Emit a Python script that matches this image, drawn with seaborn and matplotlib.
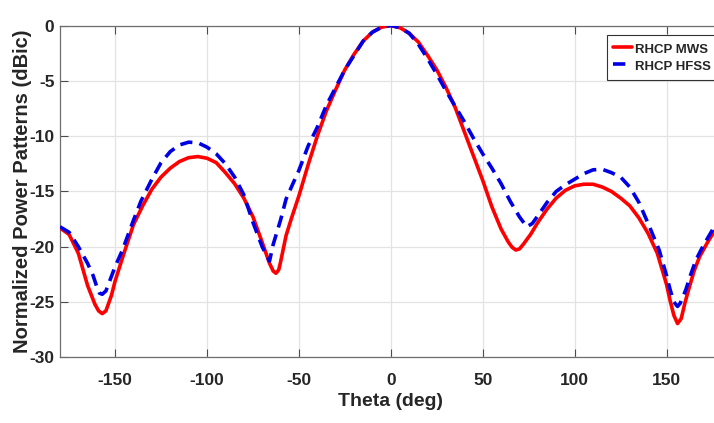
import numpy as np
import pandas as pd
import matplotlib
matplotlib.use('Agg')
import matplotlib.pyplot as plt
import seaborn as sns

# 读图得到的数据 (Theta deg, dB)
theta_mws = [-180, -175, -170, -165, -161, -159, -157, -155, -152, -150, -145, -140, -135, -130,
             -125, -120, -115, -110, -105, -100, -95, -90, -85, -80, -75, -70, -66,
             -64, -62.5, -61, -60, -57, -54, -50, -45, -40, -35, -30, -25, -20, -15, -10, -5, 0,
             5, 10, 15, 20, 25, 30, 35, 40, 45, 50, 55, 60, 64, 66, 68, 70, 72, 76, 80, 85,
             90, 95, 100, 105, 110, 115, 120, 125, 130, 135, 140, 145, 150, 152, 154, 156,
             158, 160, 162, 165, 168, 172, 176]
rhcp_mws = [-18.3, -18.9, -20.6, -23.5, -25.2, -25.8, -26.05, -25.8, -24.4, -23.1, -20.5, -18.0, -16.3, -14.8,
            -13.7, -12.9, -12.3, -11.95, -11.85, -12.0, -12.4, -13.3, -14.3, -15.6, -17.3, -19.6, -21.5,
            -22.2, -22.4, -22.1, -21.4, -19.0, -17.4, -15.4, -12.6, -10.0, -7.7, -5.8, -4.0, -2.6, -1.4, -0.6, -0.15, 0.0,
            -0.2, -0.7, -1.5, -2.7, -4.0, -5.6, -7.4, -9.6, -11.8, -14.0, -16.4, -18.4, -19.6, -20.05, -20.3, -20.2, -19.8,
            -18.9, -17.8, -16.6, -15.6, -14.9, -14.5, -14.35, -14.35, -14.6, -15.0, -15.6, -16.3, -17.4,
            -18.8, -20.6, -23.4, -24.9, -26.2, -26.95, -26.5, -25.1, -23.9, -22.2, -20.9, -19.7, -18.6]

theta_hfss = [-180, -175, -170, -165, -162, -160, -158.5, -157, -155, -150, -146, -140, -136, -130,
              -125, -120, -115, -110, -105, -100, -95, -90, -85, -80, -75, -70, -66, -64,
              -60, -57, -53, -50, -45, -40, -35, -30, -25, -20, -15, -10, -5, 0, 5, 10,
              15, 20, 25, 30, 35, 40, 45, 50, 55, 60, 65, 70, 74, 77, 80, 85, 90, 95,
              100, 105, 110, 115, 120, 125, 130, 135, 140, 146, 150, 152, 154, 156, 157.5, 160.5,
              163, 166, 170, 176]
rhcp_hfss = [-18.2, -18.7, -20.0, -21.5, -22.6, -23.6, -24.2, -24.3, -24.0, -21.8, -20.3, -17.6, -15.9, -13.9,
             -12.4, -11.4, -10.8, -10.55, -10.6, -11.0, -11.6, -12.5, -13.7, -15.3, -17.8, -20.0, -21.3,
             -19.8, -17.6, -15.7, -14.2, -13.1, -10.9, -9.2, -7.2, -5.6, -4.0, -2.7, -1.4, -0.6, -0.15,
             0.0, -0.2, -0.7, -1.7, -3.0, -4.4, -5.9, -7.3, -8.7, -10.2, -11.6, -12.9, -14.3, -15.9,
             -17.3, -18.2, -17.9, -17.2, -16.0, -15.0, -14.4, -13.9, -13.4, -13.05, -13.0, -13.3,
             -13.7, -14.6, -16.0, -17.9, -20.3, -22.6, -23.9, -25.0, -25.4, -25.1, -23.9, -22.6, -21.2, -19.9, -18.2]

xticks = [-150, -100, -50, 0, 50, 100, 150]
yticks = [-30, -25, -20, -15, -10, -5, 0]

sns.set_theme(style='white')
plt.rcParams['font.family'] = ['Liberation Sans', 'DejaVu Sans']
plt.rcParams['font.weight'] = 'bold'

fig = plt.figure(figsize=(7.14, 4.23), dpi=100)
ax = fig.add_axes([0.084, 0.1553, 0.9267, 0.7844])

sns.lineplot(x=theta_mws, y=rhcp_mws, ax=ax, color='#ff0000', lw=2.6, label='RHCP MWS', zorder=3)
sns.lineplot(x=theta_hfss, y=rhcp_hfss, ax=ax, color='#0000e6', lw=2.6,
             linestyle=(0, (3.4, 2.0)), label='RHCP HFSS', zorder=4)

ax.set_xlim(-180, 180)
ax.set_ylim(-30, 0)
ax.set_xticks(xticks)
ax.set_yticks(yticks)
ax.set_xticklabels([str(t) for t in xticks], fontsize=12.5, fontweight='bold', color='#262626')
ax.set_yticklabels([str(t) for t in yticks], fontsize=12.5, fontweight='bold', color='#262626')
ax.grid(True, color='#e3e3e3', lw=0.9, zorder=0)
ax.tick_params(axis='both', direction='in', length=6, width=0.8, color='#4d4d4d')
ax.tick_params(axis='x', pad=11, top=True, bottom=True)
ax.tick_params(axis='y', pad=4, left=True)
for s in ax.spines.values():
    s.set_color('#6e6e6e')
    s.set_linewidth(0.9)

ax.set_xlabel('Theta (deg)', fontsize=14, fontweight='bold', color='#262626', labelpad=4)
ax.set_ylabel('Normalized Power Patterns (dBic)', fontsize=14.5, fontweight='bold',
              color='#262626')
ax.yaxis.set_label_coords(-0.043, 0.5)

leg = ax.legend(loc='upper left', bbox_to_anchor=(607 / 714, 1 - 35 / 423),
                bbox_transform=fig.transFigure, fancybox=False, framealpha=1,
                edgecolor='#333333', fontsize=9.5, handlelength=1.45, handletextpad=0.25,
                handleheight=1.5, borderpad=0.45, labelspacing=0.08, borderaxespad=0)
leg.get_frame().set_linewidth(0.8)
for t in leg.get_texts():
    t.set_fontweight('bold')

fig.savefig('out.png', dpi=100)
